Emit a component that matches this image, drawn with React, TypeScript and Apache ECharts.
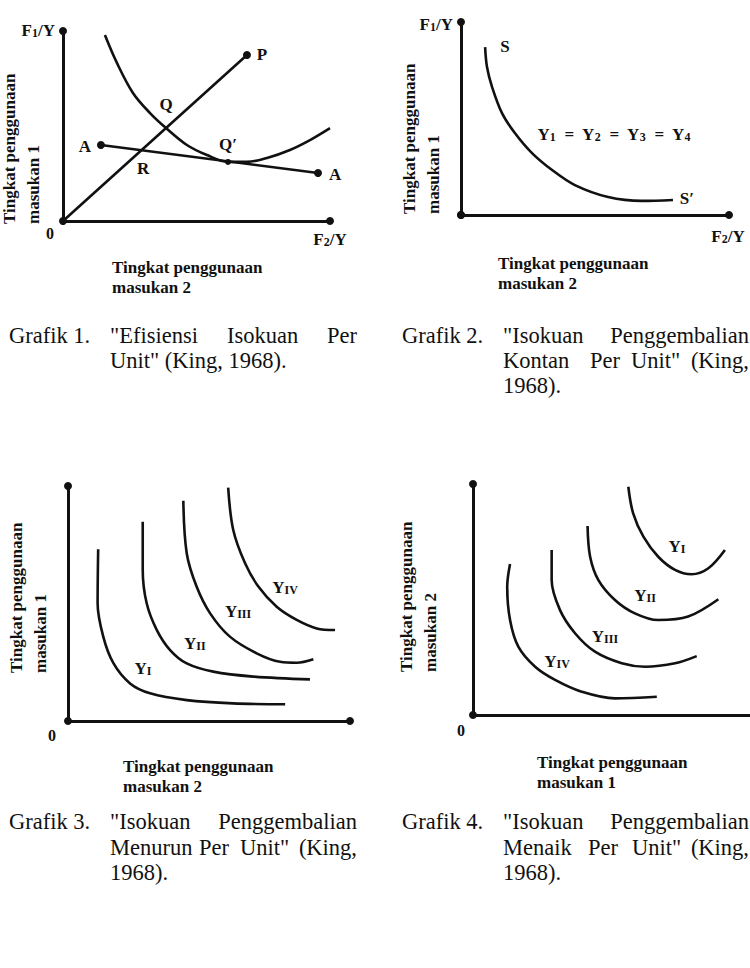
import React, { useEffect, useRef } from 'react';
import * as echarts from 'echarts';

const FONT = '"Liberation Serif", "Times New Roman", serif';
const INK = '#111111';

// ---------- Grafik 1 ----------
const g1Curve = [[15.7, 97.9], [20.2, 83.2], [26.2, 67.4], [32.6, 56.8], [38.6, 48.9], [46.4, 40], [53.9, 34.7], [61.8, 31.1], [68.9, 31.1], [76.4, 33.2], [85, 37.4], [92.5, 42.6], [100, 48.9]];
const g1RayOP = [[0, 0], [68.9, 87.4]];
const g1LineAA = [[14.2, 40], [95.5, 25.3]];
const g1Dots = [[68.9, 87.4], [14.2, 40], [95.5, 25.3]];
const g1SmallDots = [[61.8, 31.1]];
const g1Labels: [string, number, number][] = [['Q', 38.6, 62.1], ['Q′', 61.8, 41.1], ['R', 30, 28.4], ['A', 8.2, 40], ['A', 101.9, 25.3], ['P', 74.5, 88.4]];

// ---------- Grafik 2 ----------
const g2Curve = [[9.0, 87.0], [9.7, 76.7], [11.6, 66.3], [15.3, 52.8], [20.1, 42.5], [26.5, 32.1], [34.0, 23.3], [42.5, 15.5], [54.9, 9.3], [67.5, 7.3], [79.1, 7.8]];
const g2Labels: [string, number, number][] = [['S', 16.4, 88.1], ['S′', 84.3, 9.3], ['{m|Y}{s|1}{m|  =  Y}{s|2}{m|  =  Y}{s|3}{m|  =  Y}{s|4}', 57.1, 42.5]];

// ---------- Grafik 3 ----------
const g3YI = [[10.7, 73.1], [10.5, 50.1], [12.5, 35.9], [16.1, 24.6], [22.0, 16.0], [29.1, 11.8], [42.1, 8.9], [58.5, 7.5], [77.0, 7.1]];
const g3YII = [[26.5, 84.8], [26.5, 64.3], [27.9, 50.1], [31.5, 38.7], [36.2, 30.2], [42.1, 24.5], [51.5, 21.0], [65.7, 18.9], [85.8, 17.7]];
const g3YIII = [[40.9, 93.7], [42.1, 71.4], [45.6, 57.2], [50.4, 45.8], [57.4, 35.9], [66.9, 28.8], [75.2, 25.2], [81.1, 24.8], [87.0, 26.3]];
const g3YIV = [[56.8, 99.3], [58.6, 81.3], [62.8, 67.1], [67.5, 57.2], [74.0, 48.6], [81.1, 43.0], [88.2, 39.4], [94.7, 38.7]];
const g3Labels: [string, number, number][] = [['{m|Y}{s|I}', 26.6, 23.0], ['{m|Y}{s|II}', 45.0, 33.6], ['{m|Y}{s|III}', 60.3, 47.2], ['{m|Y}{s|IV}', 77.0, 57.4]];

// ---------- Grafik 4 ----------
const g4YIV = [[13.0, 65.4], [12.0, 55.5], [13.0, 41.1], [15.9, 29.6], [21.8, 20.9], [28.8, 15.2], [38.1, 10.1], [49.8, 7.2], [64.5, 7.9]];
const g4YIII = [[27.6, 71.4], [27.6, 58.4], [30.5, 45.5], [35.8, 35.4], [42.8, 27.4], [52.2, 22.4], [60.4, 20.9], [70.9, 22.4], [78.5, 25.5]];
const g4YII = [[40.2, 81.8], [41.1, 68.5], [44.0, 58.4], [49.8, 49.8], [56.8, 44.0], [65.0, 41.1], [75.5, 42.6], [86.1, 50.1]];
const g4YI = [[54.5, 98.8], [56.2, 87.3], [59.8, 77.2], [65.0, 68.5], [70.9, 62.8], [76.7, 60.9], [82.6, 63.5], [88.4, 71.4]];
const g4Labels: [string, number, number][] = [['{m|Y}{s|I}', 71.6, 73.6], ['{m|Y}{s|II}', 60.4, 52.4], ['{m|Y}{s|III}', 46.3, 34.6], ['{m|Y}{s|IV}', 29.5, 23.8]];

// ---------- Texts ----------
const yTitles = ['Tingkat penggunaan\nmasukan 1', 'Tingkat penggunaan\nmasukan 1', 'Tingkat penggunaan\nmasukan 1', 'Tingkat penggunaan\nmasukan 2'];
const xTitles = ['Tingkat penggunaan\nmasukan 2', 'Tingkat penggunaan\nmasukan 2', 'Tingkat penggunaan\nmasukan 2', 'Tingkat penggunaan\nmasukan 1'];
const captions1: [string, number, number, string?][] = [
  ['Grafik 1.', 9, 335], ['"Efisiensi', 110, 335], ['Isokuan', 227, 335], ['Per', 357, 335, 'right'], ['Unit" (King, 1968).', 110, 360],
];
const captions2: [string, number, number, string?][] = [
  ['Grafik 2.', 402, 335], ['"Isokuan', 503, 335], ['Penggembalian', 749, 335, 'right'],
  ['Kontan', 503, 360], ['Per', 590, 360], ['Unit"', 631, 360], ['(King,', 749, 360, 'right'], ['1968).', 503, 385],
];
const captions3: [string, number, number, string?][] = [
  ['Grafik 3.', 9, 821], ['"Isokuan', 110, 821], ['Penggembalian', 357, 821, 'right'],
  ['Menurun', 110, 847], ['Per', 199, 847], ['Unit"', 240, 847], ['(King,', 357, 847, 'right'], ['1968).', 110, 872],
];
const captions4: [string, number, number, string?][] = [
  ['Grafik 4.', 402, 821], ['"Isokuan', 503, 821], ['Penggembalian', 749, 821, 'right'],
  ['Menaik', 503, 847], ['Per', 588, 847], ['Unit"', 632, 847], ['(King,', 749, 847, 'right'], ['1968).', 503, 872],
];

const rich = {
  m: { fontFamily: FONT, fontSize: 17, fontWeight: 'bold', color: INK, lineHeight: 20, verticalAlign: 'bottom' },
  s: { fontFamily: FONT, fontSize: 12, fontWeight: 'bold', color: INK, lineHeight: 11, verticalAlign: 'bottom' },
};

export default function App() {
  const ref = useRef<HTMLDivElement>(null);
  useEffect(() => {
    if (!ref.current) return;
    const chart = echarts.init(ref.current, null, { renderer: 'svg' });

    const grids = [
      { left: 63, top: 31, width: 267, height: 190 },
      { left: 461, top: 22, width: 268, height: 193 },
      { left: 68, top: 486, width: 282, height: 235 },
      { left: 473, top: 484, width: 277, height: 231 },
    ];
    const xMax = [100, 100, 100, 97.2];
    const xSym = [['none', 'circle'], ['circle', 'circle'], ['circle', 'circle'], ['circle', 'none']];
    const ySym = [['circle', 'circle'], ['circle', 'circle'], ['none', 'circle'], ['none', 'circle']];
    const axisBase = (sym: string[], i: number, max: number) => ({
      type: 'value', gridIndex: i, min: 0, max,
      axisLine: { show: true, symbol: sym, symbolSize: [8, 8], lineStyle: { color: INK, width: 3 } },
      axisTick: { show: false }, axisLabel: { show: false }, splitLine: { show: false },
    });

    const curve = (i: number, data: number[][]) => ({
      type: 'line', xAxisIndex: i, yAxisIndex: i, data, smooth: 0.35, symbol: 'none', showSymbol: false,
      lineStyle: { color: INK, width: 2.6 }, clip: false, silent: true, z: 3,
    });
    const straight = (i: number, data: number[][]) => ({
      type: 'line', xAxisIndex: i, yAxisIndex: i, data, smooth: false, symbol: 'none', showSymbol: false,
      lineStyle: { color: INK, width: 2.6 }, clip: false, silent: true, z: 3,
    });
    const dots = (i: number, data: number[][], size: number) => ({
      type: 'scatter', xAxisIndex: i, yAxisIndex: i, data, symbol: 'circle', symbolSize: size,
      itemStyle: { color: INK, opacity: 1 }, clip: false, silent: true, z: 4,
    });
    const labels = (i: number, items: [string, number, number][]) => ({
      type: 'scatter', xAxisIndex: i, yAxisIndex: i, symbolSize: 0, clip: false, silent: true, z: 5,
      itemStyle: { color: INK, opacity: 1 },
      data: items.map(([t, x, y]) => ({
        value: [x, y],
        label: { formatter: t.startsWith('{') ? t : `{m|${t}}` },
      })),
      label: {
        show: true, position: [0, 0], align: 'center', verticalAlign: 'middle',
        color: INK, textBorderWidth: 0, rich,
      },
    });

    const gtext = (text: string, x: number, y: number, o: any = {}) => ({
      type: 'text', x, y, silent: true, rotation: o.rotation || 0,
      style: {
        text, fill: INK, fontFamily: FONT, fontSize: o.fontSize || 17, fontWeight: o.fontWeight || 'bold',
        align: o.align || 'left', verticalAlign: o.verticalAlign || 'middle', lineHeight: o.lineHeight || 20,
        rich: o.rich,
      },
    });

    const graphics: any[] = [];
    const yTitlePos = [[-3, 224], [397, 214], [4, 673], [394, 672]];
    yTitles.forEach((t, i) => graphics.push(gtext(t, yTitlePos[i][0], yTitlePos[i][1], { rotation: Math.PI / 2, verticalAlign: 'top', lineHeight: 24 })));
    const xTitlePos = [[112, 277], [498, 273], [123, 776], [537, 772]];
    xTitles.forEach((t, i) => graphics.push(gtext(t, xTitlePos[i][0], xTitlePos[i][1], { lineHeight: 20 })));
    graphics.push(gtext('{m|F}{s|1}{m|/Y}', 55, 29, { align: 'right', rich }));
    graphics.push(gtext('{m|F}{s|2}{m|/Y}', 330, 238, { align: 'center', rich }));
    graphics.push(gtext('{m|F}{s|1}{m|/Y}', 453, 23, { align: 'right', rich }));
    graphics.push(gtext('{m|F}{s|2}{m|/Y}', 728, 235, { align: 'center', rich }));
    graphics.push(gtext('0', 50, 233, { align: 'center', fontSize: 16 }));
    graphics.push(gtext('0', 52, 735, { align: 'center', fontSize: 16 }));
    graphics.push(gtext('0', 461, 730, { align: 'center', fontSize: 16 }));
    [...captions1, ...captions2, ...captions3, ...captions4].forEach(([t, x, y, a]) =>
      graphics.push(gtext(t, x, y, { fontSize: 22.5, fontWeight: 'normal', align: a || 'left', lineHeight: 24 })));

    chart.setOption({
      animation: false,
      backgroundColor: '#ffffff',
      grid: grids,
      xAxis: grids.map((_, i) => axisBase(xSym[i], i, xMax[i])),
      yAxis: grids.map((_, i) => axisBase(ySym[i], i, 100)),
      series: [
        curve(0, g1Curve), straight(0, g1RayOP), straight(0, g1LineAA), dots(0, g1Dots, 8), dots(0, g1SmallDots, 6), labels(0, g1Labels),
        curve(1, g2Curve), labels(1, g2Labels),
        curve(2, g3YI), curve(2, g3YII), curve(2, g3YIII), curve(2, g3YIV), labels(2, g3Labels),
        curve(3, g4YI), curve(3, g4YII), curve(3, g4YIII), curve(3, g4YIV), labels(3, g4Labels),
      ],
      graphic: graphics,
    });
    return () => chart.dispose();
  }, []);
  return <div ref={ref} style={{ position: 'absolute', left: 0, top: 0, width: 750, height: 968, background: '#fff' }} />;
}
